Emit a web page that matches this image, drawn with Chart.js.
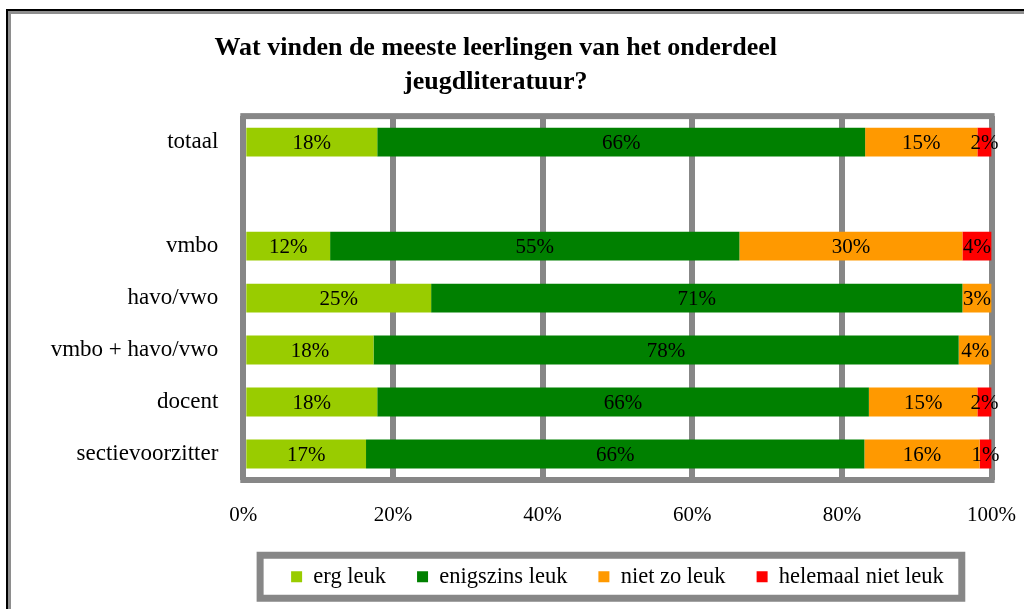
<!DOCTYPE html>
<html>
<head>
<meta charset="utf-8">
<script src="https://cdn.jsdelivr.net/npm/chart.js@4"></script>
<style>
  html, body { margin: 0; padding: 0; background: #fff; overflow: hidden; }
  .frame-outer { position: absolute; left: 6px; top: 9px; width: 1200px; height: 800px; border-left: 2px solid #000; border-top: 2px solid #000; }
  .frame-inner { width: 100%; height: 100%; border-left: 3px solid #8e8e8e; border-top: 3px solid #8e8e8e; }
  #chart { position: absolute; left: 0; top: 0; }
</style>
</head>
<body>
<div class="frame-outer"><div class="frame-inner"></div></div>
<canvas id="chart" width="1024" height="609"></canvas>
<script>
const categories = ['totaal', '', 'vmbo', 'havo/vwo', 'vmbo + havo/vwo', 'docent', 'sectievoorzitter'];

// bar lengths (percent of 100)
const ergLeuk = [17.9, null, 11.6, 25.1, 17.4, 17.9, 16.4];
const enigszinsLeuk = [65.2, null, 54.7, 71.0, 78.2, 65.7, 66.6];
const nietZoLeuk = [15.0, null, 29.8, 3.9, 4.4, 14.5, 15.4];
const helemaalNietLeuk = [1.9, null, 3.9, 0, 0, 1.9, 1.6];

// printed labels inside the bars
const ergLeukLabels = [18, null, 12, 25, 18, 18, 17];
const enigszinsLeukLabels = [66, null, 55, 71, 78, 66, 66];
const nietZoLeukLabels = [15, null, 30, 3, 4, 15, 16];
const helemaalNietLeukLabels = [2, null, 4, null, null, 2, 1];

const xTicks = [0, 20, 40, 60, 80, 100];

const FONT = "'Liberation Serif', 'Times New Roman', serif";
const GRAY = '#878787';

const seriesDefs = [
  { label: 'erg leuk', data: ergLeuk, labels: ergLeukLabels, color: '#99cc00' },
  { label: 'enigszins leuk', data: enigszinsLeuk, labels: enigszinsLeukLabels, color: '#008000' },
  { label: 'niet zo leuk', data: nietZoLeuk, labels: nietZoLeukLabels, color: '#ff9900' },
  { label: 'helemaal niet leuk', data: helemaalNietLeuk, labels: helemaalNietLeukLabels, color: '#ff0000' }
];

// top and bottom edge of the plot frame
const plotFrame = {
  id: 'plotFrame',
  beforeDatasetsDraw(chart) {
    const { ctx, chartArea: a } = chart;
    ctx.save();
    ctx.fillStyle = GRAY;
    ctx.fillRect(a.left - 3, a.top - 3, a.right - a.left + 6, 6);
    ctx.fillRect(a.left - 3, a.bottom - 3, a.right - a.left + 6, 6);
    ctx.restore();
  }
};

// percentages centred in each segment
const segmentLabels = {
  id: 'segmentLabels',
  afterDatasetsDraw(chart) {
    const ctx = chart.ctx;
    ctx.save();
    ctx.font = `21px ${FONT}`;
    ctx.fillStyle = '#000';
    ctx.textAlign = 'center';
    ctx.textBaseline = 'middle';
    chart.data.datasets.forEach((ds, i) => {
      const meta = chart.getDatasetMeta(i);
      meta.data.forEach((bar, j) => {
        const txt = ds.valueLabels[j];
        if (txt == null) return;
        ctx.fillText(txt + '%', (bar.x + bar.base) / 2, bar.y + 1);
      });
    });
    ctx.restore();
  }
};

// thick grey box round the legend
const legendBox = {
  id: 'legendBox',
  afterDraw(chart) {
    const boxes = chart.legend.legendHitBoxes;
    if (!boxes || !boxes.length) return;
    const first = boxes[0];
    const last = boxes[boxes.length - 1];
    const cy = first.top + first.height / 2;
    const ctx = chart.ctx;
    ctx.save();
    ctx.strokeStyle = GRAY;
    ctx.lineWidth = 7;
    ctx.strokeRect(first.left - 31, cy - 21.5, last.left + last.width - first.left + 49, 43);
    ctx.restore();
  }
};

new Chart(document.getElementById('chart'), {
  type: 'bar',
  data: {
    labels: categories,
    datasets: seriesDefs.map(s => ({
      label: s.label,
      data: s.data,
      valueLabels: s.labels,
      backgroundColor: s.color,
      borderWidth: 0,
      barPercentage: 0.555,
      categoryPercentage: 1
    }))
  },
  options: {
    indexAxis: 'y',
    responsive: false,
    animation: false,
    layout: { padding: { left: 0, right: 32.4, top: 0, bottom: 11 } },
    scales: {
      x: {
        stacked: true,
        min: 0,
        max: 100,
        afterBuildTicks: (s) => { s.ticks = xTicks.map(v => ({ value: v })); },
        afterFit: (s) => {
          s.height = 54.5;
          s.paddingLeft = 0;
          s.paddingRight = 0;
        },
        grid: { color: GRAY, lineWidth: 6, drawTicks: false },
        border: { display: false },
        ticks: {
          padding: 23,
          color: '#000',
          font: { family: FONT, size: 21 },
          callback: v => v + '%'
        }
      },
      y: {
        stacked: true,
        afterFit: (s) => { s.width = 243.3; },
        grid: { display: false, drawTicks: false },
        border: { display: false },
        ticks: {
          padding: 25,
          color: '#000',
          font: { family: FONT, size: 23 }
        }
      }
    },
    plugins: {
      title: {
        display: true,
        text: ['Wat vinden de meeste leerlingen van het onderdeel', 'jeugdliteratuur?'],
        color: '#000',
        font: { family: FONT, size: 26, weight: 'bold', lineHeight: 1.31 },
        padding: { top: 31, bottom: 17 }
      },
      legend: {
        position: 'bottom',
        fullSize: false,
        labels: {
          color: '#000',
          font: { family: FONT, size: 22.5 },
          boxWidth: 11,
          boxHeight: 11,
          padding: 31
        }
      },
      tooltip: { enabled: false }
    }
  },
  plugins: [plotFrame, segmentLabels, legendBox]
});
</script>
</body>
</html>
